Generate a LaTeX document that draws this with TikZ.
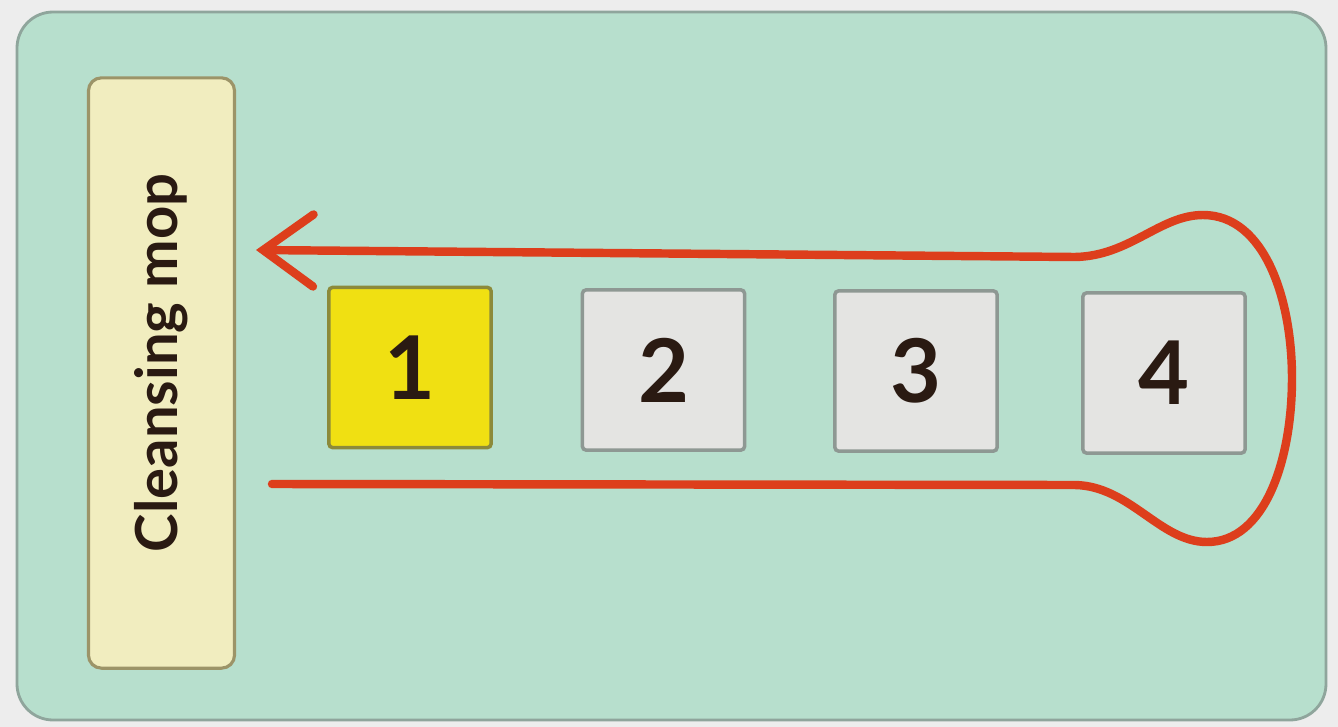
\documentclass[tikz,border=0pt]{standalone}
\usepackage{fontspec}
\setmainfont{Lato}
\usetikzlibrary{arrows.meta}
\definecolor{bgout}{HTML}{EDEDED}
\definecolor{panel}{HTML}{B7DFCD}
\definecolor{panelborder}{HTML}{8FA59C}
\definecolor{mopfill}{HTML}{F1EDBF}
\definecolor{mopborder}{HTML}{9C9468}
\definecolor{yel}{HTML}{F0E012}
\definecolor{yelborder}{HTML}{8C8A3A}
\definecolor{greyfill}{HTML}{E4E4E2}
\definecolor{greyborder}{HTML}{8E9893}
\definecolor{redline}{HTML}{DD3E1C}
\definecolor{ink}{HTML}{2A1A12}
\tikzset{
  numbox/.style={draw=greyborder, fill=greyfill, line width=1pt, minimum width=1.62cm, minimum height=1.6cm, inner sep=0pt, rounded corners=1pt, text=ink, font=\fontsize{25}{30}\selectfont\bfseries},
  yelbox/.style={numbox, draw=yelborder, fill=yel},
  mopbox/.style={draw=mopborder, fill=mopfill, line width=0.9pt, rounded corners=0.13cm, minimum width=1.46cm, minimum height=5.9cm, inner sep=0pt, text=ink},
  flow/.style={draw=redline, line width=2.4pt, line cap=round, line join=round}
}
\begin{document}
\begin{tikzpicture}[x=0.01cm,y=-0.01cm]
\useasboundingbox (0,0) rectangle (1338,727);
\fill[bgout] (0,0) rectangle (1338,727);
\draw[panelborder, fill=panel, line width=0.8pt, rounded corners=0.36cm] (17,12) rectangle (1326,720);
\node[mopbox] (mop) at (161.5,373) {};
\node[rotate=90, text=ink, font=\fontsize{16.5}{20}\selectfont\bfseries] (moptext) at ([yshift=0.1cm]mop.center) {Cleansing mop};
\node[yelbox] (b1) at (410,367.5) {1};
\node[numbox] (b2) at (663.5,370) {2};
\node[numbox] (b3) at (916,371) {3};
\node[numbox] (b4) at (1164,373) {4};
\coordinate (start) at (272,484);
\coordinate (tip) at (256,250);
\draw[flow, -{Straight Barb[length=0.5cm, width=0.72cm, line cap=round]}]
  (start) -- (1075,485)
  .. controls (1130,486) and (1160,542) .. (1207,542)
  .. controls (1265,542) and (1292,460) .. (1292,378)
  .. controls (1292,300) and (1265,215) .. (1203,215)
  .. controls (1160,215) and (1130,256) .. (1075,257)
  -- (tip);
\end{tikzpicture}
\end{document}
